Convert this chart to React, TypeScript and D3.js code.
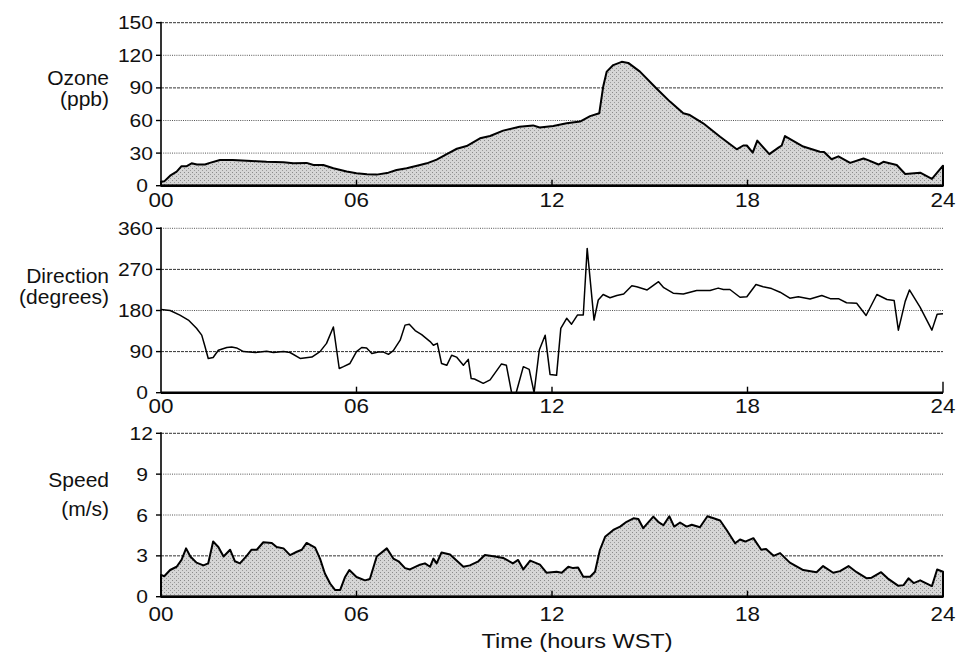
import React from "react";
import * as d3 from "d3";

// hour ticks along the bottom of each panel
const hourTicks = [0, 6, 12, 18, 24];
const hourLabels = ["00", "06", "12", "18", "24"];

// ozone (ppb)
const ozoneTime = [0, 0.1, 0.28, 0.48, 0.63, 0.79, 0.94, 1.1, 1.35, 1.5, 1.81, 2.2, 2.63, 2.94, 3.24, 3.76, 4.06, 4.47, 4.68, 4.98, 5.29, 5.7, 6.0, 6.32, 6.62, 6.98, 7.23, 7.54, 7.95, 8.16, 8.46, 8.77, 9.08, 9.38, 9.79, 10.1, 10.5, 11.0, 11.42, 11.62, 12.04, 12.45, 12.86, 13.17, 13.45, 13.57, 13.68, 13.88, 14.14, 14.34, 14.7, 15.2, 15.62, 16.03, 16.23, 16.64, 17.16, 17.67, 17.87, 17.98, 18.16, 18.3, 18.67, 18.95, 19.05, 19.15, 19.71, 20.22, 20.35, 20.58, 20.79, 21.15, 21.56, 21.7, 22.02, 22.17, 22.58, 22.84, 23.3, 23.66, 24];
const ozoneValue = [3.7, 4, 9.2, 12.9, 18, 18, 20.6, 19.5, 19.5, 21, 23.7, 23.7, 23, 22.5, 22, 21.5, 20.6, 21, 19, 19, 16, 13, 11.5, 10.5, 10.2, 12, 14.5, 16, 19, 20.6, 24, 29, 34, 36.5, 43.6, 45.7, 50.7, 54.3, 55.5, 53.5, 55, 57.4, 59, 64, 66.6, 91, 105, 111, 114, 113, 105, 89.7, 77.4, 66.6, 65, 57.4, 45, 33.5, 37, 37, 30.4, 41.5, 29, 35, 37, 45.7, 36, 31.3, 31, 24.3, 27, 21, 25, 23.5, 19.5, 22, 19, 10.8, 12, 6.2, 18.4];

// wind direction (degrees)
const directionTime = [0, 0.28, 0.58, 0.84, 1.09, 1.25, 1.35, 1.45, 1.6, 1.76, 2.02, 2.17, 2.32, 2.53, 2.9, 3.24, 3.45, 3.76, 3.96, 4.27, 4.63, 4.88, 5.08, 5.29, 5.47, 5.6, 5.8, 6.0, 6.16, 6.31, 6.47, 6.67, 6.83, 6.98, 7.13, 7.34, 7.49, 7.62, 7.8, 8.0, 8.26, 8.36, 8.48, 8.61, 8.77, 8.92, 9.07, 9.28, 9.43, 9.52, 9.62, 9.89, 10.1, 10.45, 10.6, 10.76, 10.9, 11.12, 11.3, 11.45, 11.61, 11.79, 11.94, 12.14, 12.27, 12.45, 12.6, 12.78, 12.96, 13.08, 13.29, 13.42, 13.57, 13.78, 13.99, 14.2, 14.45, 14.6, 14.92, 15.27, 15.43, 15.72, 16.03, 16.44, 16.85, 17.1, 17.26, 17.46, 17.77, 17.98, 18.26, 18.48, 18.74, 19.0, 19.3, 19.56, 19.92, 20.28, 20.54, 20.79, 21.04, 21.35, 21.64, 21.97, 22.28, 22.5, 22.63, 22.84, 22.97, 23.3, 23.66, 23.82, 24];
const directionValue = [182, 180, 170, 159, 141, 126, 101, 75, 77, 93, 99, 100, 98, 90, 88, 91, 88, 90, 88, 75, 78, 90, 108, 144, 53, 57, 64, 90, 99, 98, 86, 89, 89, 84, 92, 115, 148, 150, 136, 127, 112, 104, 108, 64, 60, 82, 78, 60, 73, 31, 30, 20.5, 28, 63, 60, 0, 0, 57, 51, 0, 93.5, 126, 40, 38, 141, 163, 150, 170, 170, 316, 159, 203, 215, 208, 213, 216, 234, 232, 225, 243, 230, 218, 216, 224, 224, 229, 226, 226, 209, 210, 237, 232, 228, 220, 207, 210, 205, 213, 206, 206, 197, 196, 169, 215, 204, 202, 137, 200, 225, 187, 137, 172, 173];

// wind speed (m/s)
const speedTime = [0, 0.1, 0.28, 0.48, 0.63, 0.77, 0.9, 1.09, 1.3, 1.45, 1.6, 1.76, 1.92, 2.12, 2.27, 2.42, 2.63, 2.78, 2.94, 3.14, 3.4, 3.55, 3.76, 3.96, 4.17, 4.32, 4.47, 4.73, 4.88, 5.03, 5.19, 5.34, 5.5, 5.65, 5.78, 6.0, 6.26, 6.41, 6.62, 6.93, 7.13, 7.29, 7.49, 7.64, 7.95, 8.1, 8.26, 8.36, 8.46, 8.61, 8.87, 9.28, 9.48, 9.74, 9.94, 10.25, 10.5, 10.8, 10.96, 11.12, 11.33, 11.63, 11.83, 12.14, 12.3, 12.5, 12.65, 12.8, 12.96, 13.17, 13.32, 13.47, 13.63, 13.78, 13.88, 14.09, 14.29, 14.5, 14.65, 14.8, 15.11, 15.26, 15.42, 15.6, 15.75, 15.93, 16.13, 16.29, 16.54, 16.77, 16.96, 17.16, 17.36, 17.62, 17.77, 17.93, 18.18, 18.42, 18.57, 18.8, 19.0, 19.3, 19.71, 20.12, 20.32, 20.63, 20.84, 21.1, 21.35, 21.66, 21.81, 22.1, 22.3, 22.63, 22.79, 22.94, 23.1, 23.3, 23.66, 23.82, 24];
const speedValue = [1.6, 1.5, 1.96, 2.2, 2.7, 3.55, 2.95, 2.5, 2.3, 2.45, 4.05, 3.65, 2.95, 3.45, 2.6, 2.45, 3.0, 3.45, 3.45, 4.0, 3.95, 3.65, 3.55, 3.05, 3.3, 3.45, 3.95, 3.6, 2.8, 1.7, 0.97, 0.5, 0.5, 1.45, 1.96, 1.45, 1.2, 1.3, 2.95, 3.55, 2.8, 2.6, 2.1, 2.0, 2.35, 2.45, 2.2, 2.8, 2.45, 3.25, 3.1, 2.2, 2.3, 2.6, 3.06, 2.95, 2.85, 2.45, 2.7, 2.0, 2.65, 2.35, 1.76, 1.83, 1.76, 2.2, 2.1, 2.15, 1.47, 1.47, 1.83, 3.43, 4.4, 4.7, 4.9, 5.15, 5.5, 5.76, 5.7, 5.03, 5.88, 5.5, 5.25, 5.91, 5.15, 5.45, 5.15, 5.28, 5.1, 5.91, 5.76, 5.6, 4.9, 3.92, 4.2, 4.05, 4.3, 3.45, 3.5, 3.0, 3.2, 2.5, 1.96, 1.8, 2.25, 1.76, 1.88, 2.25, 1.8, 1.35, 1.4, 1.8, 1.35, 0.8, 0.85, 1.35, 1.0, 1.2, 0.78, 2.0, 1.83];

const ozoneTicks = [0, 30, 60, 90, 120, 150];
const directionTicks = [0, 90, 180, 270, 360];
const speedTicks = [0, 3, 6, 9, 12];

const FONT = "'Liberation Sans', Arial, Helvetica, sans-serif";
const W = 959;
const H = 652;

const x = d3.scaleLinear().domain([0, 24]).range([161, 943]);

const panels = [
  {
    key: "ozone", title: ["Ozone", "(ppb)"], titleY: [85, 106],
    top: 22.7, bottom: 185.7, ticks: ozoneTicks, heavy: [150, 90],
    time: ozoneTime, value: ozoneValue, filled: true, labelDy: 21,
  },
  {
    key: "direction", title: ["Direction", "(degrees)"], titleY: [283, 304],
    top: 228.3, bottom: 392.7, ticks: directionTicks, heavy: [270, 90],
    time: directionTime, value: directionValue, filled: false, labelDy: 20.5,
  },
  {
    key: "speed", title: ["Speed", "(m/s)"], titleY: [487, 516],
    top: 433.3, bottom: 596.7, ticks: speedTicks, heavy: [12, 3],
    time: speedTime, value: speedValue, filled: true, labelDy: 24,
  },
];

// wide-ish numerals like the scanned figure
function Txt({ x, y, anchor, size, sx, children }: any) {
  return (
    <text
      transform={`translate(${x},${y}) scale(${sx},1)`}
      textAnchor={anchor}
      fontSize={size}
      fontFamily={FONT}
      fill="#111"
    >
      {children}
    </text>
  );
}

function Panel({ p }: any) {
  const max = p.ticks[p.ticks.length - 1];
  const y = d3.scaleLinear().domain([0, max]).range([p.bottom, p.top]);
  const pts = p.time.map((t: number, i: number) => [t, p.value[i]]);

  const area = d3
    .area<number[]>()
    .x((d) => x(d[0]))
    .y0(p.bottom)
    .y1((d) => y(d[1]));
  const line = d3
    .line<number[]>()
    .x((d) => x(d[0]))
    .y((d) => y(d[1]));

  return (
    <g>
      {/* gridlines */}
      {p.ticks
        .filter((v: number) => v > 0)
        .map((v: number) => {
          const heavy = p.heavy.includes(v);
          return (
            <line
              key={"g" + v}
              x1={x(0)}
              x2={x(24)}
              y1={y(v)}
              y2={y(v)}
              stroke={heavy ? "#333" : "#555"}
              strokeWidth={1}
              strokeDasharray={heavy ? "3,1" : "1,1.2"}
            />
          );
        })}

      {p.filled ? (
        <path
          d={area(pts) || ""}
          fill="url(#stipple)"
          stroke="#000"
          strokeWidth={2}
          strokeLinejoin="round"
        />
      ) : (
        <path
          d={line(pts) || ""}
          fill="none"
          stroke="#000"
          strokeWidth={1.5}
          strokeLinejoin="round"
        />
      )}

      {/* axes */}
      <line x1={x(0)} x2={x(0)} y1={p.top - 1} y2={p.bottom} stroke="#000" strokeWidth={1.6} />
      <line x1={x(0)} x2={x(24)} y1={p.bottom} y2={p.bottom} stroke="#000" strokeWidth={2.4} />
      {p.ticks.map((v: number) => (
        <line key={"t" + v} x1={x(0) - 5} x2={x(0)} y1={y(v)} y2={y(v)} stroke="#000" strokeWidth={1.4} />
      ))}
      {hourTicks.slice(1).map((h) => (
        <line
          key={"h" + h}
          x1={x(h)}
          x2={x(h)}
          y1={p.bottom - (h === 24 ? 11 : 6)}
          y2={p.bottom}
          stroke="#000"
          strokeWidth={1.4}
        />
      ))}

      {/* tick labels */}
      {p.ticks.map((v: number) => {
        const s = String(v);
        return (
          <Txt key={"l" + v} x={s.length > 1 ? 153 : 148} y={y(v) + 6.5} anchor="end" size={18} sx={1.17}>
            {s}
          </Txt>
        );
      })}
      {hourTicks.map((h, i) => (
        <Txt key={"x" + h} x={x(h)} y={p.bottom + p.labelDy} anchor="middle" size={19.5} sx={1.15}>
          {hourLabels[i]}
        </Txt>
      ))}

      {/* panel title */}
      {p.title.map((s: string, i: number) => (
        <text
          key={"ti" + i}
          x={109}
          y={p.titleY[i]}
          textAnchor="end"
          fontSize={21}
          fontFamily={FONT}
          fill="#111"
        >
          {s}
        </text>
      ))}
    </g>
  );
}

export default function App() {
  return (
    <svg
      width={W}
      height={H}
      viewBox={`0 0 ${W} ${H}`}
      style={{ position: "absolute", left: 0, top: 0, background: "#fff" }}
    >
      <defs>
        <pattern id="stipple" width={4} height={4} patternUnits="userSpaceOnUse">
          <rect width={4} height={4} fill="#d6d6d6" />
          <rect x={0} y={0} width={1} height={1} fill="#8a8a8a" />
          <rect x={2} y={2} width={1} height={1} fill="#9a9a9a" />
        </pattern>
      </defs>
      <rect width={W} height={H} fill="#fff" />
      {panels.map((p) => (
        <Panel key={p.key} p={p} />
      ))}
      <Txt x={577} y={647.5} anchor="middle" size={21} sx={1.12}>
        Time (hours WST)
      </Txt>
    </svg>
  );
}
